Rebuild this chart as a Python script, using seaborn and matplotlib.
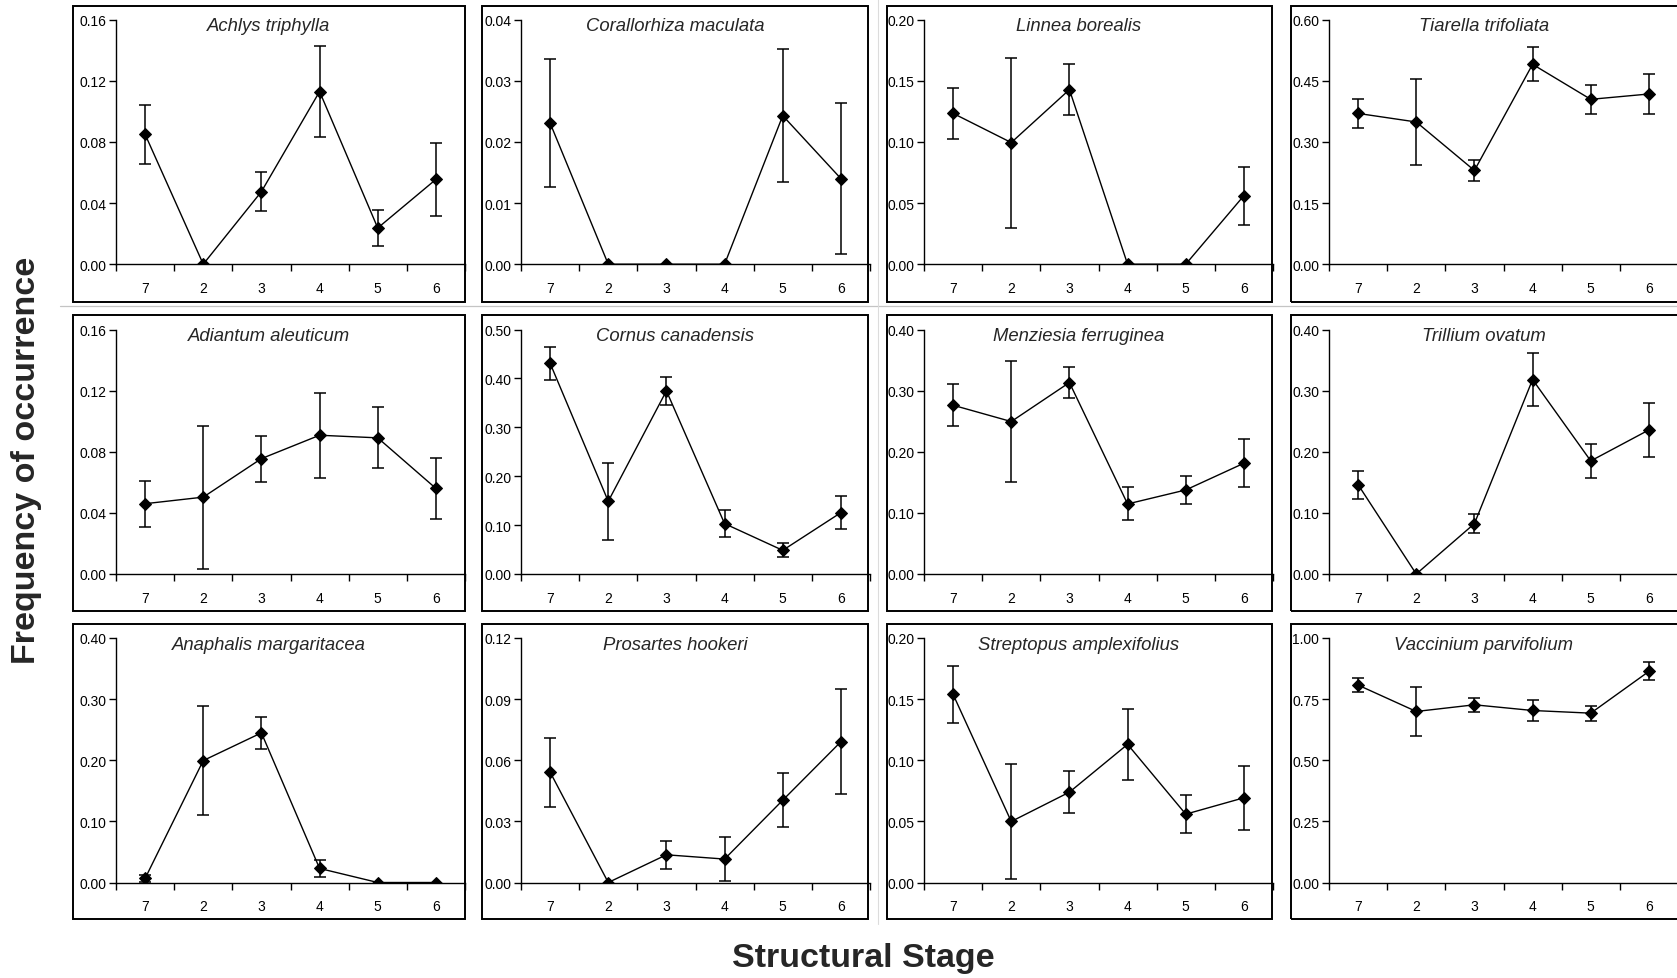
import matplotlib
matplotlib.use("Agg")
import matplotlib.pyplot as plt
from matplotlib.patches import Rectangle
from matplotlib.lines import Line2D
from matplotlib.ticker import FixedLocator, FormatStrFormatter
import seaborn as sns
import pandas as pd
import numpy as np

# ---------------- data ----------------
stages = ["7", "2", "3", "4", "5", "6"]

species = [
    "Achlys triphylla", "Corallorhiza maculata", "Linnea borealis", "Tiarella trifoliata",
    "Adiantum aleuticum", "Cornus canadensis", "Menziesia ferruginea", "Trillium ovatum",
    "Anaphalis margaritacea", "Prosartes hookeri", "Streptopus amplexifolius", "Vaccinium parvifolium",
]

ymax = [0.16, 0.04, 0.20, 0.60,
        0.16, 0.50, 0.40, 0.40,
        0.40, 0.12, 0.20, 1.00]
ystep = [0.04, 0.01, 0.05, 0.15,
         0.04, 0.10, 0.10, 0.10,
         0.10, 0.03, 0.05, 0.25]

achlys_mean = [0.085, 0.0, 0.0475, 0.113, 0.0237, 0.0555]
achlys_err = [0.0195, 0.0, 0.013, 0.030, 0.0115, 0.0237]
corallorhiza_mean = [0.0231, 0.0, 0.0, 0.0, 0.0243, 0.0140]
corallorhiza_err = [0.0105, 0.0, 0.0, 0.0, 0.0109, 0.0124]
linnea_mean = [0.1234, 0.0995, 0.1428, 0.0, 0.0, 0.0561]
linnea_err = [0.021, 0.0695, 0.0206, 0.0, 0.0, 0.0238]
tiarella_mean = [0.370, 0.349, 0.230, 0.4905, 0.4046, 0.4177]
tiarella_err = [0.035, 0.106, 0.026, 0.042, 0.036, 0.049]
adiantum_mean = [0.046, 0.0503, 0.0755, 0.0908, 0.0891, 0.056]
adiantum_err = [0.0151, 0.0468, 0.0151, 0.0279, 0.020, 0.0197]
cornus_mean = [0.4311, 0.1487, 0.3745, 0.103, 0.0484, 0.1255]
cornus_err = [0.034, 0.0788, 0.028, 0.027, 0.014, 0.034]
menziesia_mean = [0.2761, 0.2494, 0.3132, 0.1146, 0.1375, 0.1812]
menziesia_err = [0.034, 0.099, 0.026, 0.027, 0.0224, 0.039]
trillium_mean = [0.1462, 0.0, 0.0824, 0.3181, 0.185, 0.2357]
trillium_err = [0.023, 0.0, 0.016, 0.043, 0.0275, 0.0445]
anaphalis_mean = [0.0066, 0.1995, 0.2448, 0.023, 0.0, 0.0]
anaphalis_err = [0.006, 0.0885, 0.0265, 0.0137, 0.0, 0.0]
prosartes_mean = [0.0542, 0.0, 0.0136, 0.0115, 0.0404, 0.0691]
prosartes_err = [0.0169, 0.0, 0.0068, 0.0107, 0.0133, 0.0258]
streptopus_mean = [0.1539, 0.0499, 0.0739, 0.113, 0.0559, 0.0693]
streptopus_err = [0.0235, 0.047, 0.0172, 0.029, 0.0154, 0.0264]
vaccinium_mean = [0.8074, 0.6995, 0.7268, 0.7035, 0.6926, 0.8634]
vaccinium_err = [0.027, 0.102, 0.029, 0.042, 0.031, 0.037]

means = [achlys_mean, corallorhiza_mean, linnea_mean, tiarella_mean,
         adiantum_mean, cornus_mean, menziesia_mean, trillium_mean,
         anaphalis_mean, prosartes_mean, streptopus_mean, vaccinium_mean]
errs = [achlys_err, corallorhiza_err, linnea_err, tiarella_err,
        adiantum_err, cornus_err, menziesia_err, trillium_err,
        anaphalis_err, prosartes_err, streptopus_err, vaccinium_err]

# ---------------- style ----------------
sns.set_theme(style="ticks")
plt.rcParams["font.family"] = ["Liberation Sans", "DejaVu Sans"]

W, H = 1677, 979
fig = plt.figure(figsize=(W / 100, H / 100), dpi=100)

def fx(x):
    return x / W

def fy(y):
    return 1 - y / H

col_axes_left = [116, 521, 924, 1329]
axes_w = 349
row_axes_top = [20.7, 330.5, 639]
axes_h = 244.5
box_x = [(73, 465), (482, 868), (887, 1272), (1291, 1700)]
box_y = [(7, 303), (316, 612), (624.5, 920)]
title_x = [269, 675, 1079, 1484]

for i, sp in enumerate(species):
    r, c = divmod(i, 4)
    left = col_axes_left[c]
    top = row_axes_top[r]
    ax = fig.add_axes([fx(left), fy(top + axes_h), axes_w / W, axes_h / H])
    ax.set_facecolor("none")

    df = pd.DataFrame({"pos": np.arange(len(stages)), "freq": means[i], "err": errs[i]})
    sns.lineplot(data=df, x="pos", y="freq", ax=ax, color="black", linewidth=1.0,
                 marker="D", markersize=6, markeredgecolor="black", markerfacecolor="black",
                 zorder=4, errorbar=None)
    dfe = df[df["err"] > 0]
    ax.errorbar(dfe["pos"], dfe["freq"], yerr=dfe["err"], fmt="none", ecolor="black",
                elinewidth=1.1, capsize=4, capthick=1.1, zorder=3)

    ax.set_xlim(-0.5, len(stages) - 0.5)
    ax.set_ylim(0, ymax[i])
    nt = int(round(ymax[i] / ystep[i])) + 1
    ax.set_yticks(np.linspace(0, ymax[i], nt))
    ax.yaxis.set_major_formatter(FormatStrFormatter("%.2f"))
    ax.set_xticks(np.arange(len(stages)))
    ax.set_xticklabels(stages)
    ax.xaxis.set_minor_locator(FixedLocator(np.arange(len(stages) + 1) - 0.5))
    ax.tick_params(axis="x", which="major", length=0, pad=12, labelsize=10, colors="black")
    ax.tick_params(axis="x", which="minor", length=5, width=1.0, color="black")
    ax.tick_params(axis="y", which="major", length=5, width=1.0, pad=2, labelsize=10,
                   colors="black")
    ax.set_xlabel("")
    ax.set_ylabel("")
    for s in ["top", "right"]:
        ax.spines[s].set_visible(False)
    for s in ["left", "bottom"]:
        ax.spines[s].set_linewidth(1.0)
        ax.spines[s].set_color("black")
        ax.spines[s].set_zorder(5)
    ax.spines["bottom"].set_clip_on(False)

    bx0, bx1 = box_x[c]
    by0, by1 = box_y[r]
    fig.patches.append(Rectangle((fx(bx0), fy(by1)), (bx1 - bx0) / W, (by1 - by0) / H,
                                 transform=fig.transFigure, fill=False,
                                 edgecolor="black", linewidth=1.4, zorder=0))
    fig.text(fx(title_x[c]), fy(top + 6), sp, ha="center", va="center",
             fontsize=13.3, style="italic")

# faint grey artefact lines seen in the reference
fig.add_artist(Line2D([fx(60), fx(W)], [fy(306.5), fy(306.5)], transform=fig.transFigure,
                      color="#c4c4c4", linewidth=0.9))
fig.add_artist(Line2D([fx(878), fx(878)], [fy(0), fy(925)], transform=fig.transFigure,
                      color="#dcdcdc", linewidth=0.8))

fig.text(fx(863), fy(959), "Structural Stage", ha="center", va="center",
         fontsize=24.5, fontweight="bold")
fig.text(fx(27), fy(460), "Frequency of occurrence", ha="center", va="center",
         rotation=90, fontsize=24.5, fontweight="bold")

fig.savefig("out.png", dpi=100)
